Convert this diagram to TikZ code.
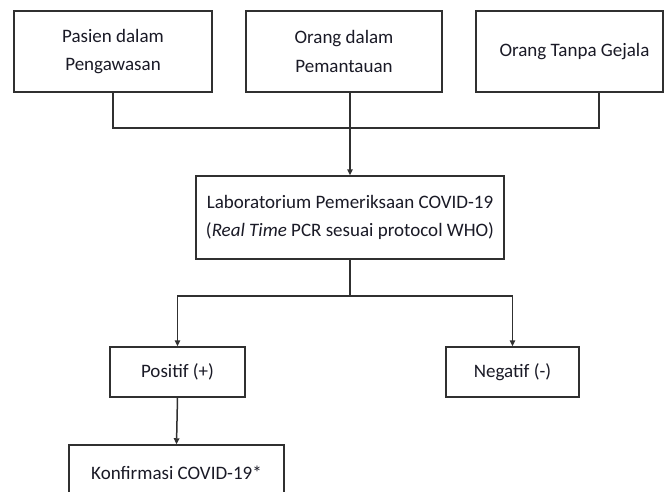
\documentclass[tikz,border=0pt]{standalone}
\usepackage{fontspec}
\setmainfont{Carlito}
\usetikzlibrary{arrows.meta,calc}
\definecolor{linec}{HTML}{303030}
\definecolor{textc}{HTML}{1A1A26}
\begin{document}
\begin{tikzpicture}[x=1pt,y=-1pt,
  box/.style={draw=linec, line width=1.5pt, fill=white, inner sep=0pt, align=center,
              font=\fontsize{19}{28.5}\selectfont, text=textc},
  conn/.style={draw=linec, line width=1.5pt},
  arr/.style={conn, -{Triangle[length=6pt,width=5.5pt]}}]
\useasboundingbox (0,0) rectangle (664,491);
\clip (0,0) rectangle (664,491);
\fill[white] (0,0) rectangle (664,491);
\node[box, minimum width=198pt, minimum height=81pt] (b1) at (113,51.5) {Pasien dalam\\Pengawasan};
\node[box, minimum width=196pt, minimum height=81pt] (b2) at (344,51.5) {Orang dalam\\Pemantauan};
\node[box, minimum width=187pt, minimum height=81pt] (b3) at (569.5,51.5) {\hspace*{10pt}Orang Tanpa Gejala};
\node[box, minimum width=308pt, minimum height=83pt] (lab) at (350,217.5) {Laboratorium Pemeriksaan COVID-19\\(\textit{Real Time} PCR sesuai protocol WHO)};
\node[box, minimum width=135pt, minimum height=50pt] (pos) at (177.5,372) {Positif (+)};
\node[box, minimum width=133pt, minimum height=50pt] (neg) at (512.5,372) {Negatif (-)};
\node[box, minimum width=215pt, minimum height=55pt] (konf) at (176.5,472.5) {Konfirmasi COVID-19*};
\coordinate (b3c) at ($(b3.south)+(29.5,0)$);
\draw[conn] (b1.south) -- ++(0,35) -| (b3c) -- (b3.south -| b3c);
\draw[arr] (lab.north |- b2.south) -- (lab.north);
\coordinate (j2) at ($(lab.south)+(0,36)$);
\draw[conn] (lab.south) -- (j2);
\draw[arr] (j2) -| (pos.north);
\draw[arr] (j2) -| (neg.north);
\draw[arr] (pos.south) -- (konf.north);
\end{tikzpicture}
\end{document}
